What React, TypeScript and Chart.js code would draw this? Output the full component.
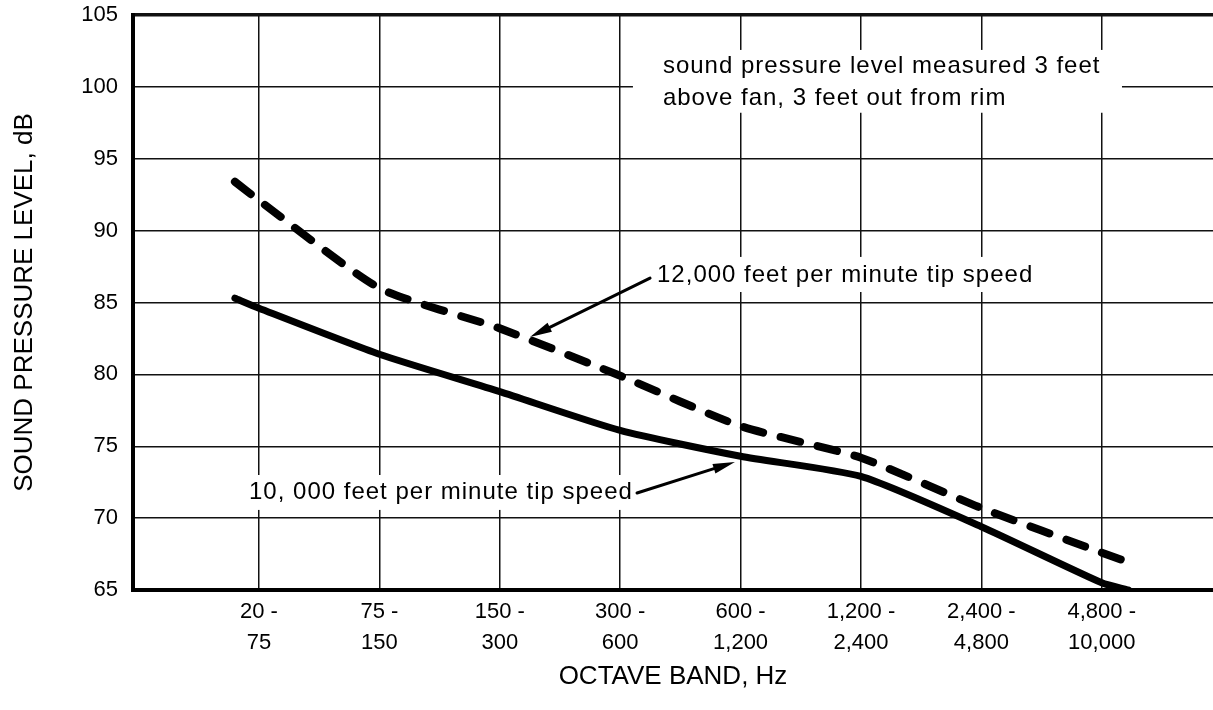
import React, { useEffect, useRef } from "react";
import { Chart, registerables } from "chart.js";

Chart.register(...registerables);

// ---- data ----
const BAND_LOW = ["20", "75", "150", "300", "600", "1,200", "2,400", "4,800"];
const BAND_HIGH = ["75", "150", "300", "600", "1,200", "2,400", "4,800", "10,000"];
const Y_TICKS = [65, 70, 75, 80, 85, 90, 95, 100, 105];

// 10,000 ft/min tip speed (solid), x = octave band index
const SOLID_X = [-0.2, 0, 1, 2, 3, 4, 5, 6, 7, 7.22];
const SOLID_Y = [85.3, 84.6, 81.4, 78.8, 76.1, 74.3, 72.9, 69.4, 65.5, 65.0];

// 12,000 ft/min tip speed (dashed)
const DASH_X = [-0.2, 0, 1, 2, 3, 4, 5, 6, 7, 7.2];
const DASH_Y = [93.4, 92.1, 86.0, 83.2, 79.9, 76.4, 74.2, 70.7, 67.6, 67.0];

const NOTE_LINES = [
  "sound pressure level measured 3 feet",
  "above fan, 3 feet out from rim",
];
const LABEL_12K = "12,000 feet per minute tip speed";
const LABEL_10K = "10, 000 feet per minute tip speed";

const FONT = "'Liberation Sans', Arial, Helvetica, sans-serif";

const annotationPlugin = {
  id: "annots",
  beforeDatasetsDraw(chart: any) {
    const { ctx } = chart;
    const xs = chart.scales.x;
    const ys = chart.scales.y;
    const box = (x0: number, y0: number, x1: number, y1: number) => {
      const a = xs.getPixelForValue(x0);
      const b = xs.getPixelForValue(x1);
      const c = ys.getPixelForValue(y0);
      const d = ys.getPixelForValue(y1);
      ctx.fillStyle = "#fff";
      ctx.fillRect(a, c, b - a, d - c);
    };
    ctx.save();
    box(3.106, 102.57, 7.168, 98.2);
    box(3.264, 88.17, 6.487, 85.73);
    box(-0.125, 73.0, 3.098, 70.57);
    ctx.restore();
  },
  afterDatasetsDraw(chart: any) {
    const { ctx } = chart;
    const xs = chart.scales.x;
    const ys = chart.scales.y;
    const X = (v: number) => xs.getPixelForValue(v);
    const Y = (v: number) => ys.getPixelForValue(v);
    ctx.save();
    ctx.fillStyle = "#000";
    ctx.strokeStyle = "#000";
    ctx.font = `24px ${FONT}`;
    (ctx as any).letterSpacing = "1px";
    ctx.textAlign = "left";
    ctx.textBaseline = "alphabetic";
    ctx.fillText(NOTE_LINES[0], X(3.355), Y(100.97));
    ctx.fillText(NOTE_LINES[1], X(3.355), Y(98.74));
    ctx.textBaseline = "middle";
    ctx.fillText(LABEL_12K, X(3.306), Y(86.91));
    ctx.fillText(LABEL_10K, X(-0.083), Y(71.82));

    const arrow = (x0: number, y0: number, x1: number, y1: number) => {
      const ax = X(x0), ay = Y(y0), bx = X(x1), by = Y(y1);
      const ang = Math.atan2(by - ay, bx - ax);
      const len = 22, hw = 5;
      const baseX = bx - Math.cos(ang) * len;
      const baseY = by - Math.sin(ang) * len;
      ctx.lineWidth = 3;
      ctx.lineCap = "round";
      ctx.beginPath();
      ctx.moveTo(ax, ay);
      ctx.lineTo(baseX, baseY);
      ctx.stroke();
      ctx.beginPath();
      ctx.moveTo(bx, by);
      ctx.lineTo(baseX + Math.sin(ang) * hw, baseY - Math.cos(ang) * hw);
      ctx.lineTo(baseX - Math.sin(ang) * hw, baseY + Math.cos(ang) * hw);
      ctx.closePath();
      ctx.fill();
    };
    arrow(3.248, 86.7, 2.251, 82.6);
    arrow(3.14, 71.75, 3.953, 73.9);
    ctx.restore();
  },
};

export default function App() {
  const ref = useRef<HTMLCanvasElement>(null);
  useEffect(() => {
    if (!ref.current) return;
    const chart = new Chart(ref.current, {
      type: "line",
      data: {
        datasets: [
          {
            label: "10,000 feet per minute tip speed",
            data: SOLID_X.map((x, i) => ({ x, y: SOLID_Y[i] })),
            borderColor: "#000",
            borderWidth: 7,
            pointRadius: 0,
            tension: 0.2,
            borderCapStyle: "round",
            borderJoinStyle: "round",
          },
          {
            label: "12,000 feet per minute tip speed",
            data: DASH_X.map((x, i) => ({ x, y: DASH_Y[i] })),
            borderColor: "#000",
            borderWidth: 8,
            borderDash: [20, 18],
            pointRadius: 0,
            tension: 0.2,
            borderCapStyle: "round",
            borderJoinStyle: "round",
          },
        ],
      },
      options: {
        animation: false,
        responsive: true,
        maintainAspectRatio: false,
        layout: { padding: { top: 15, right: 0, bottom: 0, left: 0 } },
        plugins: { legend: { display: false }, tooltip: { enabled: false } },
        scales: {
          x: {
            type: "linear",
            min: -1.0465,
            max: 7.924,
            afterBuildTicks: (s: any) => {
              s.ticks = BAND_LOW.map((_, i) => ({ value: i }));
            },
            afterFit: (s: any) => {
              s.height = 120;
              s.paddingLeft = 0;
              s.paddingRight = 0;
            },
            grid: { color: "#111", lineWidth: 1.5, drawTicks: false },
            border: { color: "#000", width: 4 },
            ticks: {
              color: "#000",
              font: { family: FONT, size: 22, lineHeight: 1.4 },
              padding: 7,
              maxRotation: 0,
              autoSkip: false,
              callback: (v: any) => {
                const i = Math.round(Number(v));
                return [BAND_LOW[i] + " -", BAND_HIGH[i]];
              },
            },
            title: {
              display: true,
              text: "OCTAVE BAND, Hz",
              color: "#000",
              font: { family: FONT, size: 26, lineHeight: 1.2 },
              padding: { top: 0, bottom: 18 },
            },
          },
          y: {
            min: 65,
            max: 105,
            afterBuildTicks: (s: any) => {
              s.ticks = Y_TICKS.map((v) => ({ value: v }));
            },
            afterFit: (s: any) => {
              s.width = 133;
              s.paddingTop = 0;
              s.paddingBottom = 0;
            },
            grid: {
              color: "#111",
              lineWidth: (c: any) => (c.tick && c.tick.value === 105 ? 3.5 : 1.5),
              drawTicks: false,
            },
            border: { color: "#000", width: 4 },
            ticks: {
              color: "#000",
              font: { family: FONT, size: 22 },
              padding: 15,
            },
            title: {
              display: true,
              text: "SOUND PRESSURE LEVEL, dB",
              color: "#000",
              font: { family: FONT, size: 26, lineHeight: 1.2 },
              padding: { top: 9, bottom: 0 },
            },
          },
        },
      },
      plugins: [annotationPlugin],
    } as any);
    return () => chart.destroy();
  }, []);
  return (
    <div style={{ position: "absolute", left: 0, top: 0, width: 1213, height: 710, background: "#fff" }}>
      <canvas ref={ref} />
    </div>
  );
}
